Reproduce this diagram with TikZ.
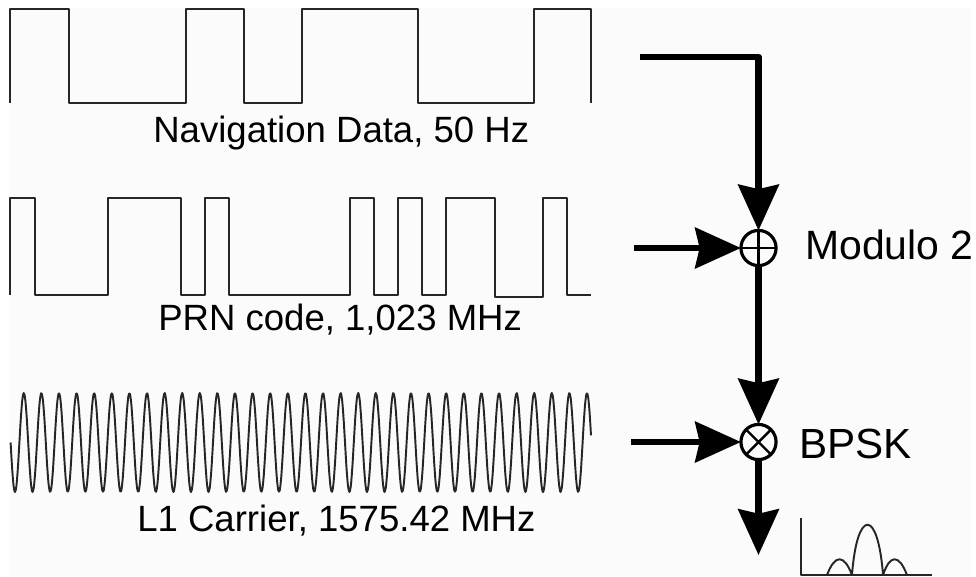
\documentclass[tikz,border=0pt]{standalone}
\usepackage{fontspec}
\setmainfont{Liberation Sans}
\usetikzlibrary{arrows.meta}
\definecolor{paper}{HTML}{FBFBFB}
\definecolor{ink}{HTML}{262626}
\tikzset{
  wave/.style={draw=ink,line width=1.1pt,line join=round},
  flow/.style={line width=3.8pt,-{Stealth[length=26pt,width=23pt,inset=2.5pt]}},
  mixer/.style={circle,draw,line width=1.8pt,inner sep=0pt,outer sep=0pt,minimum size=20pt},
  caption/.style={anchor=base west,inner sep=0pt,font=\fontsize{20.8}{24}\selectfont},
  biglabel/.style={anchor=base west,inner sep=0pt,font=\fontsize{23.3}{28}\selectfont}
}
\begin{document}
\begin{tikzpicture}[x=0.02cm,y=-0.02cm,line join=round]
  \def\carrier[#1]{442.5+49.5*sin(20.4545*((#1)-10.6))}
  \useasboundingbox (0,0) rectangle (976,576);
  \fill[paper] (10,8) rectangle (971,576);
  % square waves
  \draw[wave] (10,103)|-(69,9)|-(186,103)|-(244,9)|-(302,103)|-(418,9)|-(534,103)|-(591,9)--(591,103);
  \draw[wave] (10,295)|-(35,198)|-(108,295)|-(181,198)|-(205,295)|-(229,198)|-(350,295)|-(374,198)|-(398,295)|-(422,198)|-(446,295)|-(495,198)|-(543,297)|-(567,198)|-(591,295);
  \draw[wave,domain=10.6:591,samples=400,smooth] plot (\x,{\carrier[\x]});
  \node[caption] (navlabel) at (153,142) {Navigation Data, 50 Hz};
  \node[caption] (prnlabel) at (158,330) {PRN code, 1,023 MHz};
  \node[caption] (carlabel) at (137,531) {L1 Carrier, 1575.42 MHz};
  % adder and multiplier
  \node[mixer] (sum) at (758.5,248) {};
  \node[mixer] (mix) at (758.5,442) {};
  \draw[line width=1.4pt] (sum.north)--(sum.south) (sum.west)--(sum.east);
  \draw[line width=1.4pt] (mix.north west)--(mix.south east) (mix.north east)--(mix.south west);
  \node[biglabel] (modlabel) at (805,259) {Modulo 2};
  \node[biglabel,font=\fontsize{24}{28}\selectfont] (bpsklabel) at (799,458) {BPSK};
  \coordinate (navend) at (640,57);
  \coordinate (prnend) at (634,248);
  \coordinate (carend) at (631,442);
  \coordinate (out) at (758.5,555);
  \draw[flow] (navend)-|(sum);
  \draw[flow] (prnend)--(sum);
  \draw[flow] (sum)--(mix);
  \draw[flow] (carend)--(mix);
  \draw[flow] (mix)--(out);
  % spectrum
  \draw[wave] (801,518)|-(932,575);
  \draw[wave] (827,575) .. controls (835,554) and (844,554) .. (852,575)
    .. controls (857,508) and (878,508) .. (883,575)
    .. controls (890,554) and (899,554) .. (907,575);
\end{tikzpicture}
\end{document}
